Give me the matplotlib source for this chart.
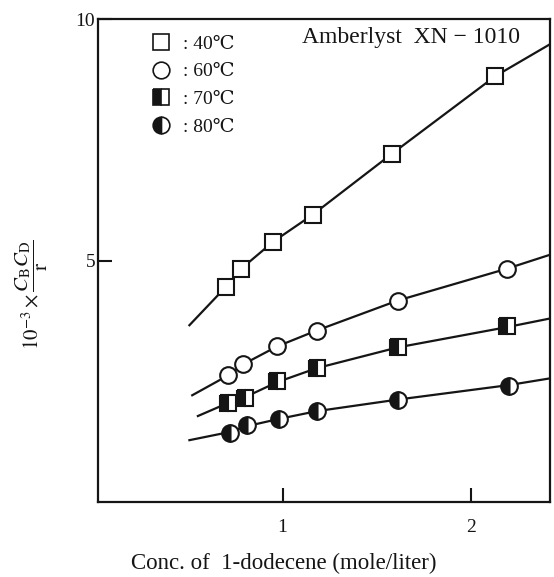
import matplotlib.pyplot as plt
from matplotlib.lines import Line2D

plt.rcParams['font.family'] = ['Liberation Serif', 'DejaVu Serif']
plt.rcParams['mathtext.fontset'] = 'stix'

# measured points (conc. of 1-dodecene, 10^-3 * CB*CD/r)
temps = ["40℃", "60℃", "70℃", "80℃"]
x_40 = [0.70, 0.78, 0.95, 1.16, 1.58, 2.13]
y_40 = [4.46, 4.83, 5.39, 5.95, 7.21, 8.82]
x_60 = [0.71, 0.79, 0.97, 1.18, 1.61, 2.19]
y_60 = [2.62, 2.85, 3.22, 3.55, 4.17, 4.83]
x_70 = [0.71, 0.80, 0.97, 1.18, 1.61, 2.19]
y_70 = [2.05, 2.15, 2.50, 2.77, 3.20, 3.64]
x_80 = [0.72, 0.81, 0.98, 1.18, 1.61, 2.20]
y_80 = [1.43, 1.59, 1.71, 1.88, 2.11, 2.40]

# drawn curves
cx_40 = [0.505, 0.70, 0.78, 0.95, 1.16, 1.58, 2.13, 2.42]
cy_40 = [3.66, 4.46, 4.83, 5.39, 5.95, 7.21, 8.82, 9.48]
cx_60 = [0.52, 0.71, 0.79, 0.97, 1.18, 1.61, 2.19, 2.42]
cy_60 = [2.21, 2.62, 2.85, 3.22, 3.55, 4.17, 4.83, 5.12]
cx_70 = [0.55, 0.71, 0.80, 0.97, 1.18, 1.61, 2.19, 2.42]
cy_70 = [1.78, 2.05, 2.17, 2.48, 2.77, 3.20, 3.62, 3.80]
cx_80 = [0.505, 0.72, 0.81, 0.98, 1.18, 1.61, 2.20, 2.42]
cy_80 = [1.28, 1.45, 1.57, 1.72, 1.88, 2.12, 2.42, 2.56]

xticks = [1, 2]
yticks = [5, 10]

INK = "#151515"


def main():
    fig = plt.figure(figsize=(5.54, 5.77), dpi=100)
    ax = fig.add_axes([0.177, 0.130, 0.816, 0.837])

    series = [
        (x_40, y_40, cx_40, cy_40, dict(marker="s", mfc="white")),
        (x_60, y_60, cx_60, cy_60, dict(marker="o", mfc="white")),
        (x_70, y_70, cx_70, cy_70, dict(marker="s", mfc=INK, fillstyle="left",
                                        markerfacecoloralt="white")),
        (x_80, y_80, cx_80, cy_80, dict(marker="o", mfc=INK, fillstyle="left",
                                        markerfacecoloralt="white")),
    ]
    handles = []
    for x, y, cx, cy, mk in series:
        ax.plot(cx, cy, color=INK, lw=1.6, zorder=2)
        ax.plot(x, y, ls="none", ms=12, mec=INK, mew=1.5, zorder=3, **mk)
        handles.append(Line2D([], [], ls="none", ms=12, mec=INK, mew=1.2, **mk))

    ax.set_xlim(0.02, 2.42)
    ax.set_ylim(0, 10)
    ax.set_xticks(xticks)
    ax.set_xticklabels([str(t) for t in xticks])
    ax.set_yticks(yticks)
    ax.set_yticklabels([str(t) for t in yticks])
    ax.tick_params(direction="in", length=10, width=1.5, labelsize=14,
                   colors=INK)
    ax.tick_params(axis="x", pad=12)
    ax.tick_params(axis="y", pad=2)
    for s in ax.spines.values():
        s.set_linewidth(1.6)
        s.set_color(INK)

    ax.set_xlabel("Conc. of  1-dodecene (mole/liter)", fontsize=16.5, color=INK)
    ax.xaxis.set_label_coords(0.41, -0.105)
    ax.set_ylabel(r"$10^{-3}\times\dfrac{C_{\mathrm{B}}C_{\mathrm{D}}}{\mathrm{r}}$",
                  fontsize=15, color=INK)
    ax.yaxis.set_label_coords(-0.107, 0.43)

    ax.text(0.452, 0.962, "Amberlyst  XN − 1010", transform=ax.transAxes,
            fontsize=17, color=INK, va="center", ha="left")

    ax.legend(handles, [": " + t for t in temps], loc="upper left",
              bbox_to_anchor=(0.088, 0.995), frameon=False, fontsize=14,
              handlelength=1.0, handletextpad=0.6, labelspacing=0.52,
              borderpad=0.2, labelcolor=INK)

    fig.savefig("out.png", dpi=100)


if __name__ == "__main__":
    main()
